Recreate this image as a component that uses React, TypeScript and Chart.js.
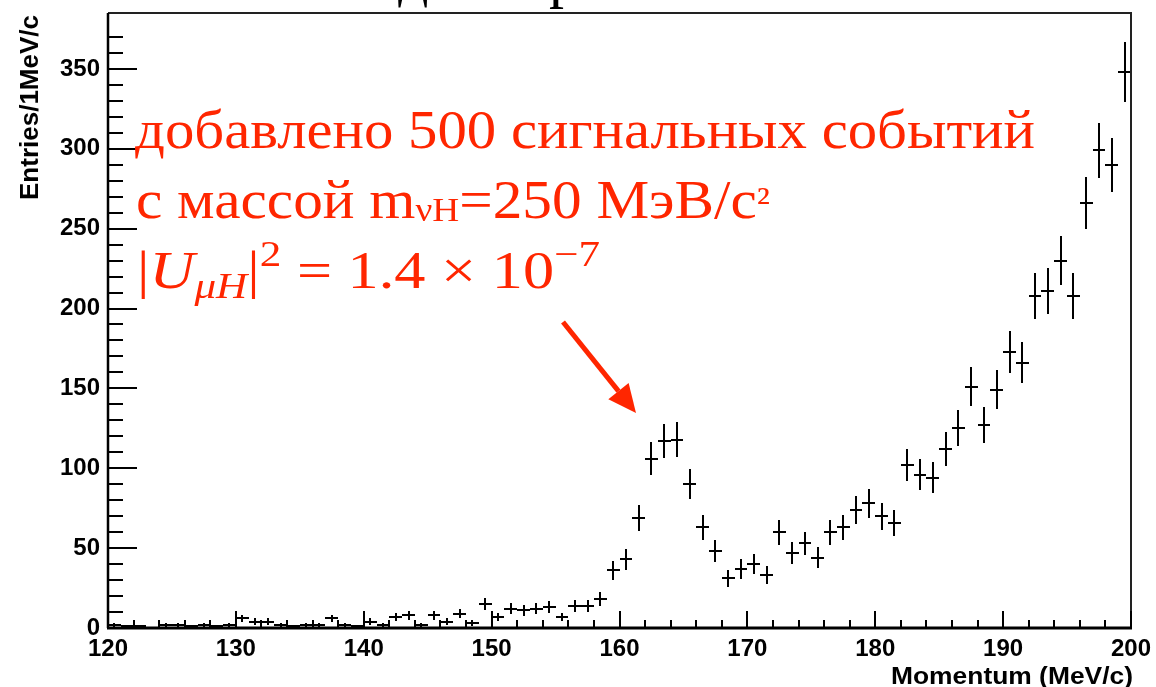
import React, { useEffect, useRef } from "react";
import { Chart, registerables } from "chart.js";

Chart.register(...registerables);

// ---- data ----
const binCenters = [
  120.5, 121.5, 122.5, 123.5, 124.5, 125.5, 126.5, 127.5, 128.5, 129.5,
  130.5, 131.5, 132.5, 133.5, 134.5, 135.5, 136.5, 137.5, 138.5, 139.5,
  140.5, 141.5, 142.5, 143.5, 144.5, 145.5, 146.5, 147.5, 148.5, 149.5,
  150.5, 151.5, 152.5, 153.5, 154.5, 155.5, 156.5, 157.5, 158.5, 159.5,
  160.5, 161.5, 162.5, 163.5, 164.5, 165.5, 166.5, 167.5, 168.5, 169.5,
  170.5, 171.5, 172.5, 173.5, 174.5, 175.5, 176.5, 177.5, 178.5, 179.5,
  180.5, 181.5, 182.5, 183.5, 184.5, 185.5, 186.5, 187.5, 188.5, 189.5,
  190.5, 191.5, 192.5, 193.5, 194.5, 195.5, 196.5, 197.5, 198.5, 199.5,
];
const entries = [
  2, 1, 1, 0, 2, 2, 1, 2, 1, 2,
  6, 4, 4, 2, 1, 2, 2, 6, 2, 1,
  4, 2, 7, 8, 2, 8, 4, 9, 3, 15,
  7, 12, 11, 12, 13, 7, 14, 14, 18, 36,
  43, 69, 106, 117, 118, 90, 63, 48, 31, 37,
  40, 33, 60, 47, 53, 44, 60, 63, 74, 78,
  70, 66, 102, 96, 94, 112, 125, 151, 127, 149,
  173, 166, 208, 211, 230, 208, 266, 299, 290, 348,
];
const binWidth = 1;
const xTickLabels = ["120", "130", "140", "150", "160", "170", "180", "190", "200"];
const yTickLabels = ["0", "50", "100", "150", "200", "250", "300", "350"];
const xAxisTitle = "Momentum (MeV/c)";
const yAxisTitle = "Entries/1MeV/c";
const note1 = "добавлено 500 сигнальных событий";
const note2 = ["с массой m", "νH", "=250 МэВ/с", "²"];
const note3 = ["|", "U", "μH", "|", "2", " = 1.4 × 10", "−7"];
const titleFragments = ["д", "р"];

const RED = "#ff2600";
const SANS = "'Liberation Sans', Arial, sans-serif";
const SERIF = "'Liberation Serif', 'Times New Roman', serif";

type Run = { t: string; font: string; dy?: number };

function drawRuns(ctx: CanvasRenderingContext2D, runs: Run[], x: number, base: number, width: number) {
  let total = 0;
  const ws = runs.map((r) => {
    ctx.font = r.font;
    const w = ctx.measureText(r.t).width;
    total += w;
    return w;
  });
  const s = width / total;
  ctx.save();
  ctx.translate(x, base);
  ctx.scale(s, 1);
  let cx = 0;
  runs.forEach((r, i) => {
    ctx.font = r.font;
    ctx.fillText(r.t, cx, r.dy || 0);
    cx += ws[i];
  });
  ctx.restore();
}

const errorBarPlugin = {
  id: "errorBars",
  afterDatasetsDraw(chart: any) {
    const { ctx, chartArea } = chart;
    const xs = chart.scales.x;
    const ys = chart.scales.y;
    ctx.save();
    ctx.beginPath();
    ctx.rect(chartArea.left, chartArea.top, chartArea.right - chartArea.left, chartArea.bottom - chartArea.top);
    ctx.clip();
    ctx.strokeStyle = "#000";
    ctx.lineWidth = 2;
    binCenters.forEach((c, i) => {
      const n = entries[i];
      if (n <= 0) return;
      const e = Math.sqrt(n);
      const px = Math.round(xs.getPixelForValue(c));
      const pl = Math.round(xs.getPixelForValue(c - binWidth / 2));
      const pr = Math.round(xs.getPixelForValue(c + binWidth / 2));
      const py = Math.round(ys.getPixelForValue(n));
      const pt = Math.round(ys.getPixelForValue(n + e));
      const pb = Math.round(ys.getPixelForValue(Math.max(0, n - e)));
      ctx.beginPath();
      ctx.moveTo(pl, py);
      ctx.lineTo(pr, py);
      ctx.moveTo(px, pt);
      ctx.lineTo(px, pb);
      ctx.stroke();
    });
    ctx.restore();
  },
};

const framePlugin = {
  id: "rootFrame",
  afterDraw(chart: any) {
    const { ctx, chartArea } = chart;
    const { left, right, top, bottom } = chartArea;
    const xs = chart.scales.x;
    const ys = chart.scales.y;
    ctx.save();
    // frame
    ctx.strokeStyle = "#222";
    ctx.lineWidth = 2;
    ctx.beginPath();
    ctx.moveTo(left, top);
    ctx.lineTo(right, top);
    ctx.lineTo(right, bottom);
    ctx.stroke();
    ctx.strokeStyle = "#000";
    ctx.lineWidth = 2.5;
    ctx.beginPath();
    ctx.moveTo(left, top);
    ctx.lineTo(left, bottom);
    ctx.stroke();
    ctx.lineWidth = 3;
    ctx.beginPath();
    ctx.moveTo(left - 1, bottom);
    ctx.lineTo(right + 1, bottom);
    ctx.stroke();
    // ticks
    ctx.lineWidth = 2;
    ctx.beginPath();
    ys.ticks.forEach((t: any) => {
      if (t.value % 10 !== 0) return;
      const y = Math.round(ys.getPixelForValue(t.value));
      const len = t.value % 50 === 0 ? 29 : 15;
      ctx.moveTo(left, y);
      ctx.lineTo(left + len, y);
    });
    xs.ticks.forEach((t: any) => {
      if (t.value % 2 !== 0) return;
      const x = Math.round(xs.getPixelForValue(t.value));
      const len = t.value % 10 === 0 ? 17 : 8;
      ctx.moveTo(x, bottom);
      ctx.lineTo(x, bottom - len);
    });
    ctx.stroke();

    // axis titles
    ctx.fillStyle = "#000";
    ctx.textAlign = "right";
    ctx.textBaseline = "alphabetic";
    ctx.font = `bold 24px ${SANS}`;
    ctx.save();
    ctx.translate(right + 2, 684);
    ctx.scale(1.1, 1);
    ctx.fillText(xAxisTitle, 0, 0);
    ctx.restore();
    ctx.save();
    ctx.font = `bold 25px ${SANS}`;
    ctx.translate(38, top + 2);
    ctx.rotate(-Math.PI / 2);
    ctx.scale(1.04, 1);
    ctx.fillText(yAxisTitle, 0, 0);
    ctx.restore();

    // cut-off title fragments
    ctx.textAlign = "left";
    ctx.font = `60px ${SERIF}`;
    ctx.fillText(titleFragments[0], 398, -4);
    ctx.fillText(titleFragments[1], 549, -4);

    // annotation
    ctx.fillStyle = RED;
    drawRuns(ctx, [{ t: note1, font: `54px ${SERIF}` }], 135, 148, 900);
    drawRuns(
      ctx,
      [
        { t: note2[0], font: `54px ${SERIF}` },
        { t: note2[1], font: `34px ${SERIF}`, dy: 3 },
        { t: note2[2], font: `54px ${SERIF}` },
        { t: note2[3], font: `40px ${SERIF}`, dy: -4 },
      ],
      136,
      218,
      634
    );
    drawRuns(
      ctx,
      [
        { t: note3[0], font: `52px ${SERIF}` },
        { t: note3[1], font: `italic 52px ${SERIF}` },
        { t: note3[2], font: `italic 36px ${SERIF}`, dy: 10 },
        { t: note3[3], font: `52px ${SERIF}` },
        { t: note3[4], font: `36px ${SERIF}`, dy: -22 },
        { t: note3[5], font: `52px ${SERIF}` },
        { t: note3[6], font: `36px ${SERIF}`, dy: -22 },
      ],
      137,
      288,
      463
    );

    // arrow
    const x0 = 563, y0 = 322, x1 = 636, y1 = 413;
    const ang = Math.atan2(y1 - y0, x1 - x0);
    const hl = 28, hw = 13;
    const bx = x1 - hl * Math.cos(ang);
    const by = y1 - hl * Math.sin(ang);
    ctx.strokeStyle = RED;
    ctx.lineWidth = 5;
    ctx.beginPath();
    ctx.moveTo(x0, y0);
    ctx.lineTo(bx, by);
    ctx.stroke();
    ctx.beginPath();
    ctx.moveTo(x1, y1);
    ctx.lineTo(bx + hw * Math.sin(ang), by - hw * Math.cos(ang));
    ctx.lineTo(bx - hw * Math.sin(ang), by + hw * Math.cos(ang));
    ctx.closePath();
    ctx.fill();
    ctx.restore();
  },
};

export default function App() {
  const ref = useRef<HTMLCanvasElement | null>(null);
  useEffect(() => {
    if (!ref.current) return;
    const chart = new Chart(ref.current, {
      type: "scatter",
      data: {
        datasets: [
          {
            data: binCenters.map((c, i) => ({ x: c, y: entries[i] })),
            pointRadius: 0,
            showLine: false,
          },
        ],
      },
      options: {
        animation: false,
        responsive: false,
        events: [],
        layout: { padding: { top: 13, right: 25, left: 0, bottom: 0 } },
        plugins: { legend: { display: false }, tooltip: { enabled: false } },
        scales: {
          x: {
            type: "linear",
            min: 120,
            max: 200,
            afterFit: (s: any) => {
              s.height = 59;
              s.paddingLeft = 0;
              s.paddingRight = 0;
            },
            grid: { display: false, drawTicks: false },
            border: { display: false },
            ticks: {
              stepSize: 2,
              autoSkip: false,
              maxRotation: 0,
              padding: 7,
              color: "#000",
              font: { family: SANS, size: 24, weight: "bold" },
              callback: (v: any) => {
                const s = String(v);
                return xTickLabels.includes(s) ? s : "";
              },
            },
          },
          y: {
            type: "linear",
            min: 0,
            max: 385,
            afterFit: (s: any) => {
              s.width = 108;
              s.paddingTop = 0;
              s.paddingBottom = 0;
            },
            grid: { display: false, drawTicks: false },
            border: { display: false },
            ticks: {
              stepSize: 10,
              autoSkip: false,
              padding: 8,
              color: "#000",
              font: { family: SANS, size: 24, weight: "bold" },
              callback: (v: any) => {
                const s = String(v);
                return yTickLabels.includes(s) ? s : "";
              },
            },
          },
        },
      },
      plugins: [errorBarPlugin, framePlugin],
    });
    return () => chart.destroy();
  }, []);
  return (
    <div style={{ position: "fixed", left: 0, top: 0, width: 1156, height: 687, background: "#fff" }}>
      <canvas ref={ref} width={1156} height={687} />
    </div>
  );
}
